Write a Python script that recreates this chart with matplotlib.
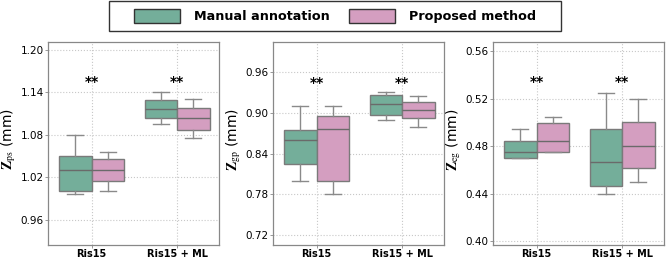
import matplotlib
matplotlib.use("Agg")
import matplotlib.pyplot as plt
from matplotlib.patches import Patch, Rectangle

# === Данные ===
groups = ["Ris15", "Ris15 + ML"]
methods = ["Manual annotation", "Proposed method"]
colors = ["#74ae9a", "#d49ec0"]

# (whislo, q1, med, q3, whishi) for [group][method]
zps = [[(0.996, 1.001, 1.030, 1.050, 1.080), (1.001, 1.015, 1.030, 1.045, 1.055)],
       [(1.095, 1.103, 1.116, 1.129, 1.141), (1.075, 1.086, 1.103, 1.118, 1.130)]]
zgp = [[(0.800, 0.825, 0.860, 0.875, 0.911), (0.780, 0.800, 0.876, 0.895, 0.911)],
       [(0.890, 0.897, 0.913, 0.927, 0.931), (0.880, 0.892, 0.905, 0.917, 0.925)]]
zeg = [[(0.470, 0.470, 0.475, 0.485, 0.495), (0.475, 0.475, 0.485, 0.500, 0.505)],
       [(0.440, 0.447, 0.467, 0.495, 0.525), (0.450, 0.462, 0.480, 0.501, 0.520)]]

panels = [
    (zps, r"$\mathbf{Z}_{\mathrm{ps}}$ (mm)", [0.96, 1.02, 1.08, 1.14, 1.20], (0.924, 1.211), 1.154),
    (zgp, r"$\mathbf{Z}_{\mathrm{gp}}$ (mm)", [0.72, 0.78, 0.84, 0.90, 0.96], (0.705, 1.005), 0.945),
    (zeg, r"$\mathbf{Z}_{\mathrm{eg}}$ (mm)", [0.40, 0.44, 0.48, 0.52, 0.56], (0.397, 0.568), 0.534),
]

plt.rcParams["mathtext.fontset"] = "stix"
fig = plt.figure(figsize=(6.69, 2.6), dpi=100)
W, H = 669, 260
lefts = [48, 273, 493]

for left, (data, ylabel, yticks, ylim, star_y) in zip(lefts, panels):
    ax = fig.add_axes([left / W, 15 / H, 171 / W, 203 / H])
    for gi, grp in enumerate(data):
        for mi, st in enumerate(grp):
            lo, q1, med, q3, hi = st
            stats = [dict(whislo=lo, q1=q1, med=med, q3=q3, whishi=hi, fliers=[])]
            pos = gi + (mi - 0.5) * 0.38
            ax.bxp(stats, positions=[pos], widths=0.38, patch_artist=True,
                   showfliers=False,
                   boxprops=dict(facecolor=colors[mi], edgecolor="#7a7a7a", linewidth=1.0),
                   medianprops=dict(color="#6a6a6a", linewidth=1.0),
                   whiskerprops=dict(color="#8a8a8a", linewidth=1.0),
                   capprops=dict(color="#8a8a8a", linewidth=1.0),
                   capwidths=0.19)
        ax.text(gi, star_y, "**", ha="center", va="center", fontsize=10,
                fontweight="bold")
    ax.set_xlim(-0.51, 1.49)
    ax.set_ylim(*ylim)
    ax.set_xticks(range(len(groups)))
    ax.set_xticklabels(groups, fontsize=7, fontweight="bold")
    ax.set_yticks(yticks)
    ax.set_yticklabels([f"{v:.2f}" for v in yticks], fontsize=7.5)
    ax.grid(True, linestyle=":", color="#c8c8c8", linewidth=0.8)
    ax.set_axisbelow(True)
    ax.tick_params(length=2, width=0.6, color="#888888", pad=1)
    for s in ax.spines.values():
        s.set_color("#888888")
        s.set_linewidth(0.9)
    ax.set_ylabel(ylabel, fontsize=10)
    ax.yaxis.set_label_coords(-0.175, 0.52)

# legend frame drawn separately to get the wide padding of the reference
fig.patches.append(Rectangle((109 / W, 1 - 31 / H), 452 / W, 30 / H,
                             transform=fig.transFigure, facecolor="white",
                             edgecolor="#333333", linewidth=1.0))
handles = [Patch(facecolor=c, edgecolor="#333333", linewidth=1.0) for c in colors]
fig.legend(handles, methods, loc="center", bbox_to_anchor=(335 / W, 1 - 16 / H),
           ncol=2, frameon=False, prop=dict(size=9.2, weight="bold"),
           handlelength=3.6, handleheight=1.3, handletextpad=1.1,
           columnspacing=1.5, borderpad=0.2)

fig.savefig("out.png", dpi=100)
